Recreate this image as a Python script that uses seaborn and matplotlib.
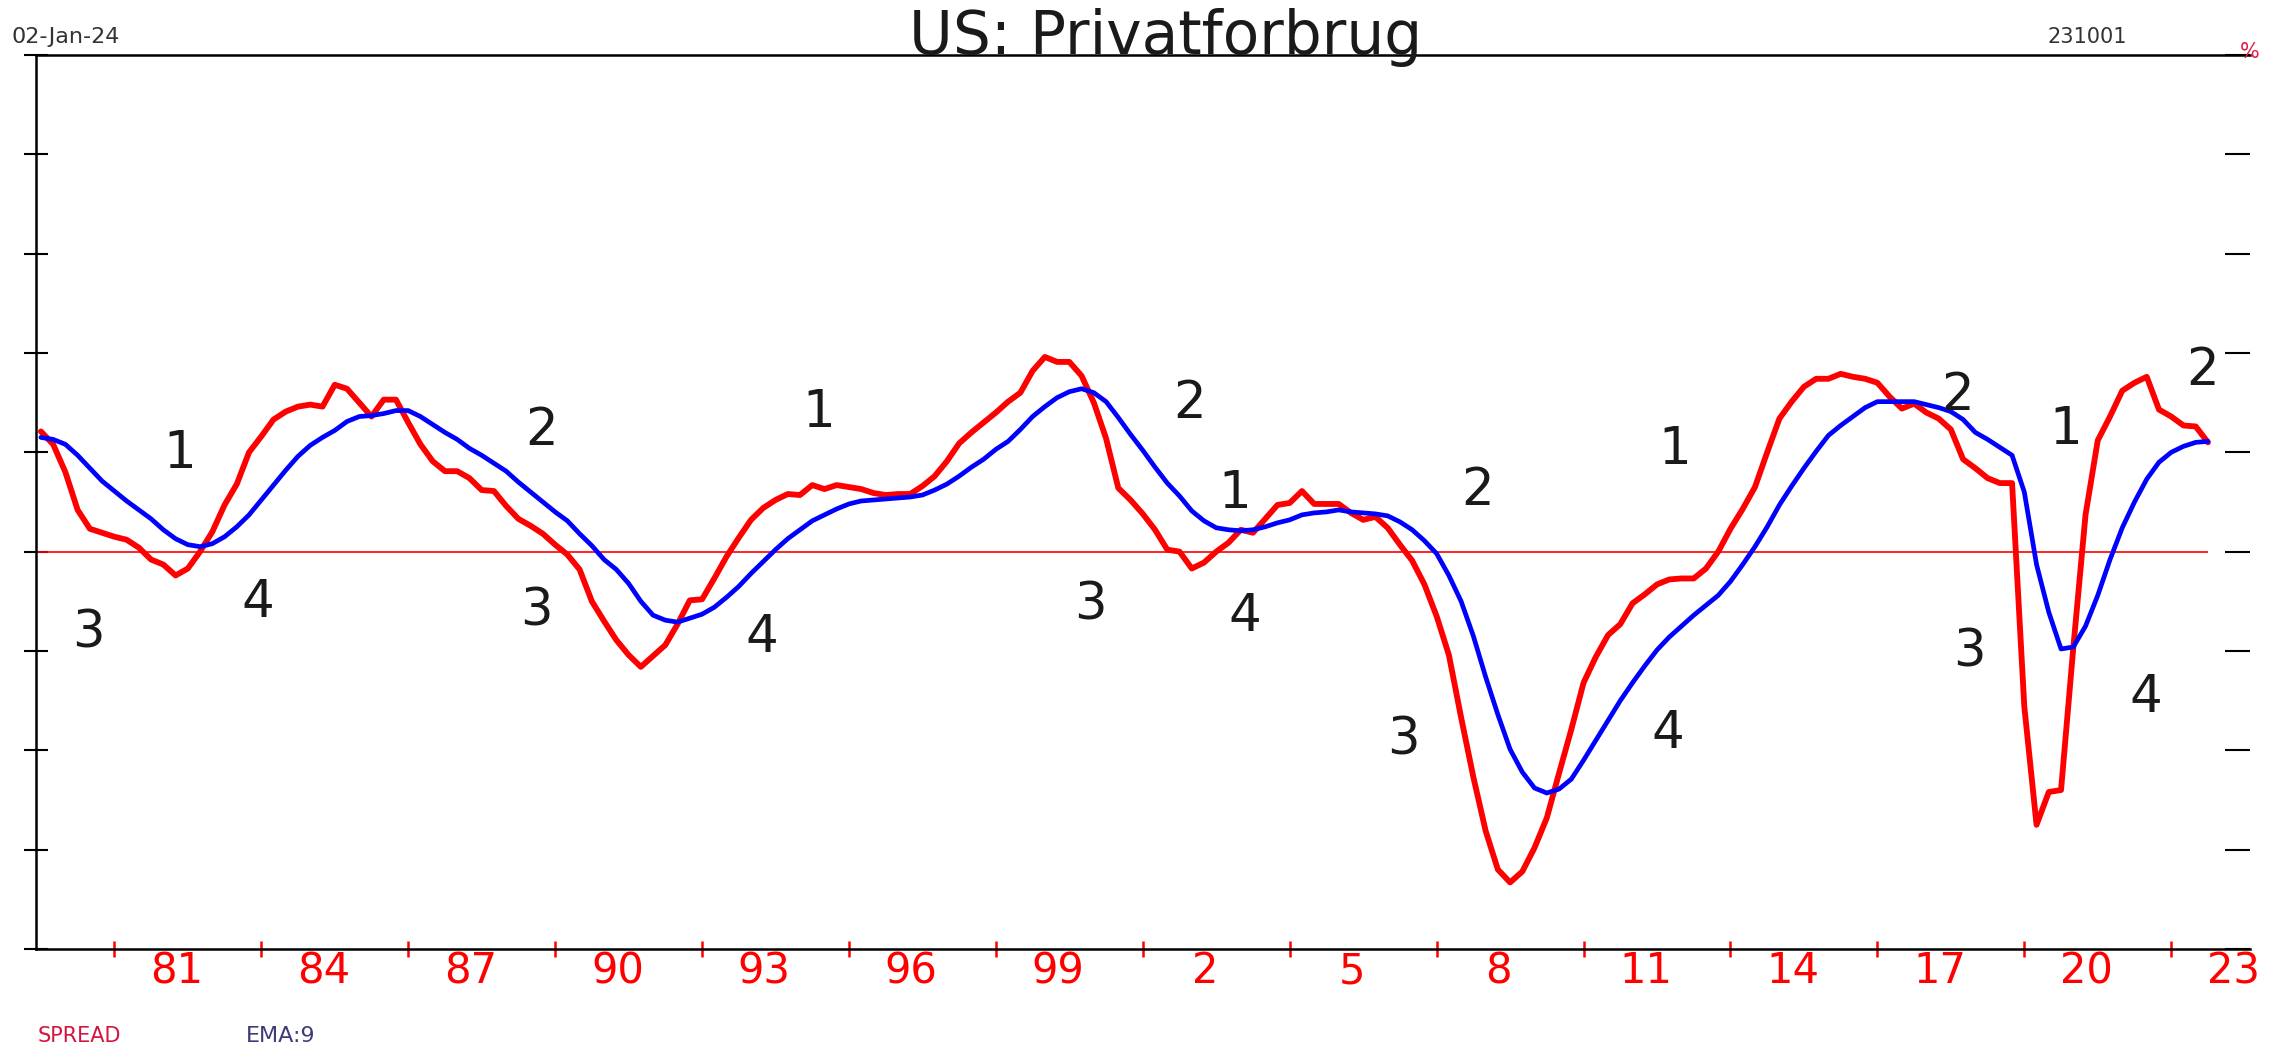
import numpy as np
import pandas as pd
import seaborn as sns
import matplotlib
matplotlib.use("Agg")
import matplotlib.pyplot as plt

# quarterly series, first quarter 1979Q3, last 2023Q4
first_quarter = "1979Q3"

spread = [
    1.21, 1.08, 0.80, 0.42, 0.23, 0.19, 0.15, 0.12, 0.04, -0.08,
    -0.13, -0.24, -0.17, 0.00, 0.20, 0.47, 0.68, 1.00, 1.16, 1.33,
    1.41, 1.46, 1.48, 1.46, 1.68, 1.64, 1.50, 1.36, 1.53, 1.53,
    1.30, 1.08, 0.91, 0.81, 0.81, 0.74, 0.62, 0.61, 0.46, 0.33,
    0.26, 0.18, 0.07, -0.03, -0.18, -0.50, -0.70, -0.89, -1.04, -1.16,
    -1.05, -0.94, -0.73, -0.49, -0.48, -0.27, -0.05, 0.14, 0.32, 0.44,
    0.52, 0.58, 0.57, 0.67, 0.63, 0.67, 0.65, 0.63, 0.59, 0.57,
    0.58, 0.58, 0.66, 0.76, 0.91, 1.09, 1.20, 1.30, 1.40, 1.51,
    1.60, 1.82, 1.96, 1.91, 1.91, 1.77, 1.50, 1.14, 0.64, 0.52,
    0.38, 0.22, 0.02, 0.00, -0.17, -0.11, 0.00, 0.09, 0.22, 0.19,
    0.33, 0.47, 0.49, 0.61, 0.48, 0.48, 0.48, 0.39, 0.32, 0.35,
    0.24, 0.07, -0.09, -0.33, -0.65, -1.04, -1.67, -2.27, -2.81, -3.20,
    -3.33, -3.22, -2.98, -2.68, -2.23, -1.79, -1.32, -1.06, -0.84, -0.73,
    -0.52, -0.43, -0.33, -0.28, -0.27, -0.27, -0.17, 0.00, 0.23, 0.43,
    0.65, 1.00, 1.34, 1.51, 1.66, 1.74, 1.74, 1.79, 1.76, 1.74,
    1.70, 1.56, 1.44, 1.49, 1.40, 1.34, 1.23, 0.93, 0.84, 0.74,
    0.69, 0.69, -1.56, -2.75, -2.42, -2.40, -0.97, 0.37, 1.12, 1.36,
    1.62, 1.70, 1.76, 1.43, 1.36, 1.27, 1.26, 1.10,
]

ema9 = [
    1.15, 1.13, 1.08, 0.97, 0.84, 0.71, 0.61, 0.51, 0.42, 0.33,
    0.22, 0.13, 0.07, 0.05, 0.08, 0.15, 0.25, 0.37, 0.52, 0.67,
    0.82, 0.96, 1.07, 1.15, 1.22, 1.31, 1.36, 1.37, 1.39, 1.42,
    1.42, 1.36, 1.28, 1.20, 1.13, 1.04, 0.97, 0.89, 0.81, 0.70,
    0.60, 0.50, 0.40, 0.31, 0.18, 0.06, -0.08, -0.18, -0.32, -0.50,
    -0.64, -0.69, -0.71, -0.67, -0.63, -0.56, -0.46, -0.35, -0.22, -0.10,
    0.02, 0.13, 0.22, 0.31, 0.37, 0.43, 0.48, 0.51, 0.52, 0.53,
    0.54, 0.55, 0.57, 0.62, 0.68, 0.76, 0.85, 0.93, 1.03, 1.11,
    1.23, 1.36, 1.46, 1.55, 1.61, 1.64, 1.60, 1.51, 1.35, 1.18,
    1.02, 0.85, 0.69, 0.56, 0.41, 0.31, 0.24, 0.22, 0.21, 0.22,
    0.25, 0.29, 0.32, 0.37, 0.39, 0.40, 0.42, 0.40, 0.39, 0.38,
    0.36, 0.30, 0.22, 0.11, -0.02, -0.24, -0.50, -0.85, -1.26, -1.64,
    -1.99, -2.22, -2.38, -2.43, -2.39, -2.29, -2.10, -1.90, -1.70, -1.50,
    -1.32, -1.15, -0.99, -0.86, -0.75, -0.64, -0.54, -0.44, -0.30, -0.13,
    0.05, 0.25, 0.47, 0.66, 0.84, 1.01, 1.17, 1.27, 1.36, 1.45,
    1.51, 1.51, 1.51, 1.51, 1.48, 1.45, 1.41, 1.33, 1.20, 1.13,
    1.05, 0.97, 0.60, -0.13, -0.61, -0.98, -0.96, -0.75, -0.44, -0.08,
    0.24, 0.50, 0.73, 0.90, 1.00, 1.06, 1.10, 1.11,
]

year_ticks = [1981, 1984, 1987, 1990, 1993, 1996, 1999, 2002, 2005,
              2008, 2011, 2014, 2017, 2020, 2023]
year_labels = ["81", "84", "87", "90", "93", "96", "99", "2", "5",
               "8", "11", "14", "17", "20", "23"]

# cycle phase markers written on the chart
phase_text = ["3", "1", "4", "2", "3", "1", "4", "2", "3", "1",
              "4", "2", "3", "1", "4", "2", "3", "1", "4", "2"]
phase_x = [1980.47, 1982.33, 1983.93, 1989.73, 1989.61, 1995.38, 1994.22, 2002.95, 2000.94, 2003.87,
           2004.08, 2008.84, 2007.33, 2012.86, 2012.72, 2018.63, 2018.87, 2020.85, 2022.48, 2023.63]
phase_y = [-0.82, 0.98, -0.52, 1.21, -0.60, 1.40, -0.87, 1.49, -0.54, 0.58,
           -0.66, 0.61, -1.90, 1.02, -1.84, 1.57, -1.02, 1.22, -1.47, 1.82]

quarters = pd.period_range(first_quarter, periods=len(spread), freq="Q")
t = np.asarray(quarters.year + (quarters.quarter - 1) / 4, dtype=float)
df = pd.DataFrame({"t": t, "SPREAD": spread, "EMA:9": ema9})

sns.set_style("white")
plt.rcParams["font.family"] = ["DejaVu Sans"]

fig = plt.figure(figsize=(22.72, 10.55), dpi=100)
ax = fig.add_axes([0.01585, 0.1005, 0.9745, 0.8474])

x_left, x_right = 1979.40, 2024.61
ax.hlines(0, x_left, t[-1], color="#ff0000", lw=1.2, zorder=1)
sns.lineplot(data=df, x="t", y="SPREAD", color="#ff0000", lw=4.2, ax=ax, zorder=3)
sns.lineplot(data=df, x="t", y="EMA:9", color="#0000ff", lw=3.4, ax=ax, zorder=4)

ax.set_xlim(x_left, x_right)
ax.set_ylim(-4, 5)
ax.set_xlabel("")
ax.set_ylabel("")
ax.set_yticks(range(-4, 6))
ax.set_yticklabels([])
ax.tick_params(axis="y", left=True, direction="inout", length=17, width=1.5, color="black")
ax.set_xticks(year_ticks)
ax.set_xticklabels([])
ax.tick_params(axis="x", bottom=True, direction="inout", length=12, width=1.8, color="#ff0000")

for side in ["left", "bottom", "top"]:
    ax.spines[side].set_color("black")
    ax.spines[side].set_linewidth(1.8)
ax.spines["right"].set_visible(False)

# right side ticks without a spine
rt = ax.twinx()
rt.set_ylim(-4, 5)
rt.set_yticks(range(-4, 6))
rt.set_yticklabels([])
rt.tick_params(axis="y", right=True, direction="in", length=18, width=1.5, color="black")
for s in rt.spines.values():
    s.set_visible(False)

for yr, lab in zip(year_ticks, year_labels):
    ax.annotate(lab, xy=(yr + 1.27, -4), xytext=(0, -24.5), textcoords="offset points",
                ha="center", va="baseline", fontsize=30, color="#ff0000", annotation_clip=False)

for s, x, y in zip(phase_text, phase_x, phase_y):
    ax.text(x, y, s, fontsize=37, ha="center", va="center", color="#1a1a1a", zorder=5)

fig.text(0.5128, 0.9485, "US: Privatforbrug", fontsize=43, ha="center", va="baseline", color="#1a1a1a")
fig.text(0.005, 0.959, "02-Jan-24", fontsize=16, ha="left", va="baseline", color="#333333")
fig.text(0.9186, 0.959, "231001", fontsize=15, ha="center", va="baseline", color="#333333")
fig.text(0.99, 0.945, "%", fontsize=15, ha="center", va="baseline", color="#e0204a")
fig.text(0.0167, 0.0123, "SPREAD", fontsize=15, ha="left", va="baseline", color="#d4143c")
fig.text(0.108, 0.0123, "EMA:9", fontsize=16, ha="left", va="baseline", color="#3c3c78")

fig.savefig("out.png", dpi=100)
